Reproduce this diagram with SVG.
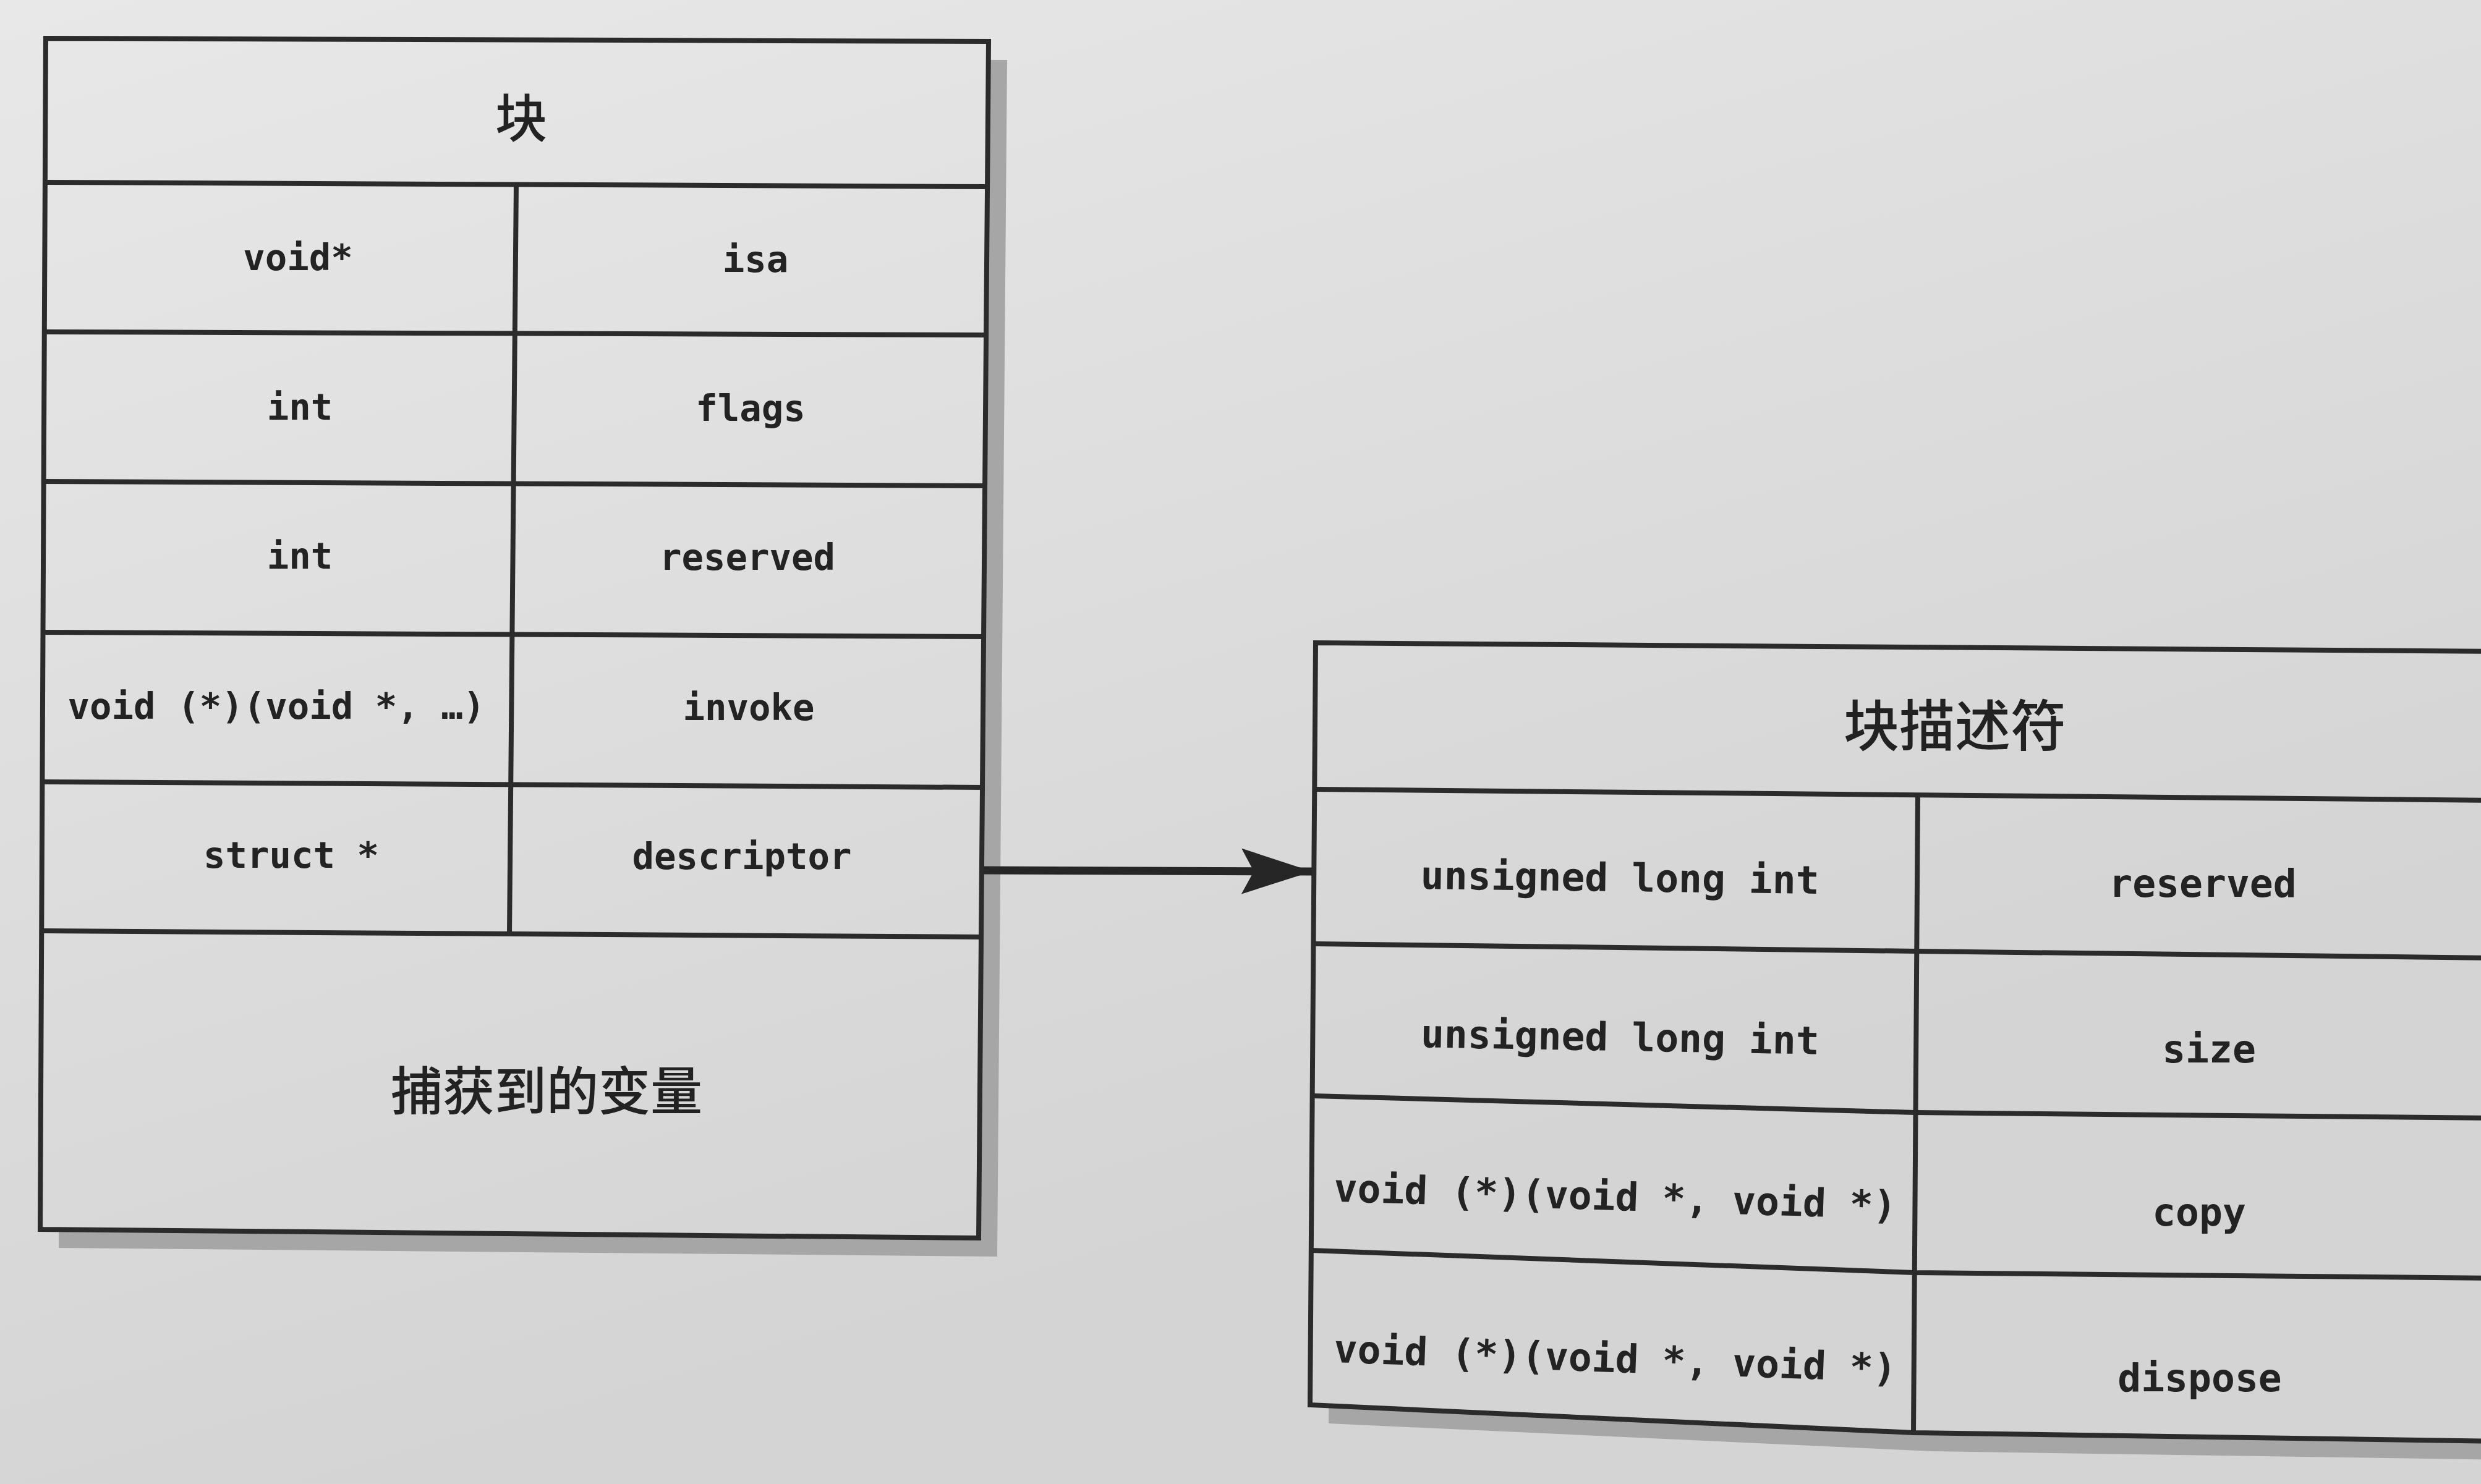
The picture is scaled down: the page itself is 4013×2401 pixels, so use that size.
<svg xmlns="http://www.w3.org/2000/svg" width="4013" height="2401" viewBox="0 0 4013 2401">
<defs>
<linearGradient id="bg" gradientUnits="userSpaceOnUse" x1="0" y1="0" x2="700" y2="2401">
<stop offset="0" stop-color="#e8e8e8"/>
<stop offset="1" stop-color="#d4d4d4"/>
</linearGradient>
<marker id="ah" markerUnits="userSpaceOnUse" markerWidth="120" markerHeight="80" refX="114" refY="37" orient="auto">
<path d="M0,0 L114,37 L0,74 L20,37 Z" fill="#262626"/>
</marker>
<style>
.frame{fill:url(#bg);stroke:#2b2b2b;stroke-width:8;stroke-linejoin:miter}
.shadow{fill:#a6a6a6;stroke:none}
.ln{fill:none;stroke:#2b2b2b;stroke-width:8}
.mono{font-family:"DejaVu Sans Mono","Liberation Mono",monospace;font-weight:bold;fill:#232323;text-anchor:middle}
.l{font-size:59px}
.r{font-size:63px}
.cjk{font-family:"Noto Sans CJK SC","Noto Sans CJK TC",sans-serif;font-weight:500;fill:#222;text-anchor:middle}
.conn{fill:none;stroke:#262626;stroke-width:13}
</style>
</defs>
<rect x="0" y="0" width="4013" height="2401" fill="url(#bg)"/>

<g id="block">
<path class="shadow" d="M104,92 L1629,97 L1613,2033 L95,2019 Z"/>
<path class="frame" d="M74,62 L1599,67 L1583,2003 L65,1989 Z"/>
<line class="ln" x1="73" y1="295" x2="1597" y2="302"/>
<line class="ln" x1="72" y1="537" x2="1595" y2="542"/>
<line class="ln" x1="71" y1="779" x2="1593" y2="786"/>
<line class="ln" x1="70" y1="1023" x2="1591" y2="1030"/>
<line class="ln" x1="68" y1="1265" x2="1589" y2="1274"/>
<line class="ln" x1="67" y1="1506" x2="1586" y2="1516"/>
<line class="ln" x1="835" y1="298" x2="824" y2="1511"/>
<text class="cjk" x="843" y="222" font-size="84">块</text>
<text class="mono l" x="482" y="437">void*</text>
<text class="mono l" x="1222" y="440">isa</text>
<text class="mono l" x="485" y="679">int</text>
<text class="mono l" x="1214" y="681">flags</text>
<text class="mono l" x="485" y="920">int</text>
<text class="mono l" x="1209" y="922">reserved</text>
<text class="mono l" x="447" y="1163">void (*)(void *, …)</text>
<text class="mono l" x="1211" y="1165">invoke</text>
<text class="mono l" x="471" y="1404">struct *</text>
<text class="mono l" x="1200" y="1406">descriptor</text>
<text class="cjk" x="884" y="1796" font-size="84">捕获到的变量</text>
</g>

<g id="block-descriptor">
<path class="shadow" d="M2158,1070 L4060,1084 L4060,2362 L3125,2348 L2149,2303 Z"/>
<path class="frame" d="M2128,1040 L4040,1054 L4040,2332 L3095,2318 L2119,2273 Z"/>
<line class="ln" x1="2127" y1="1277" x2="4040" y2="1295"/>
<polyline class="ln" points="2126,1527 3100,1539 4040,1550"/>
<polyline class="ln" points="2124,1773 3098,1800 4040,1809"/>
<polyline class="ln" points="2122,2023 3096,2059 4040,2068"/>
<line class="ln" x1="3102" y1="1286" x2="3095" y2="2318"/>
<text class="cjk" x="3162" y="1207" font-size="90">块描述符</text>
<text class="mono r" x="2620" y="1442" transform="rotate(0.7 2620 1442)">unsigned long int</text>
<text class="mono r" x="3563" y="1451">reserved</text>
<text class="mono r" x="2620" y="1700" transform="rotate(1 2620 1700)">unsigned long int</text>
<text class="mono r" x="3573" y="1719">size</text>
<text class="mono r" x="2612" y="1958" transform="rotate(1.8 2612 1958)">void (*)(void *, void *)</text>
<text class="mono r" x="3557" y="1983">copy</text>
<text class="mono r" x="2612" y="2220" transform="rotate(2 2612 2220)">void (*)(void *, void *)</text>
<text class="mono r" x="3558" y="2251">dispose</text>
</g>

<g id="connectors">
<line class="conn" x1="1591" y1="1408" x2="2122" y2="1410" marker-end="url(#ah)"/>
</g>
</svg>
